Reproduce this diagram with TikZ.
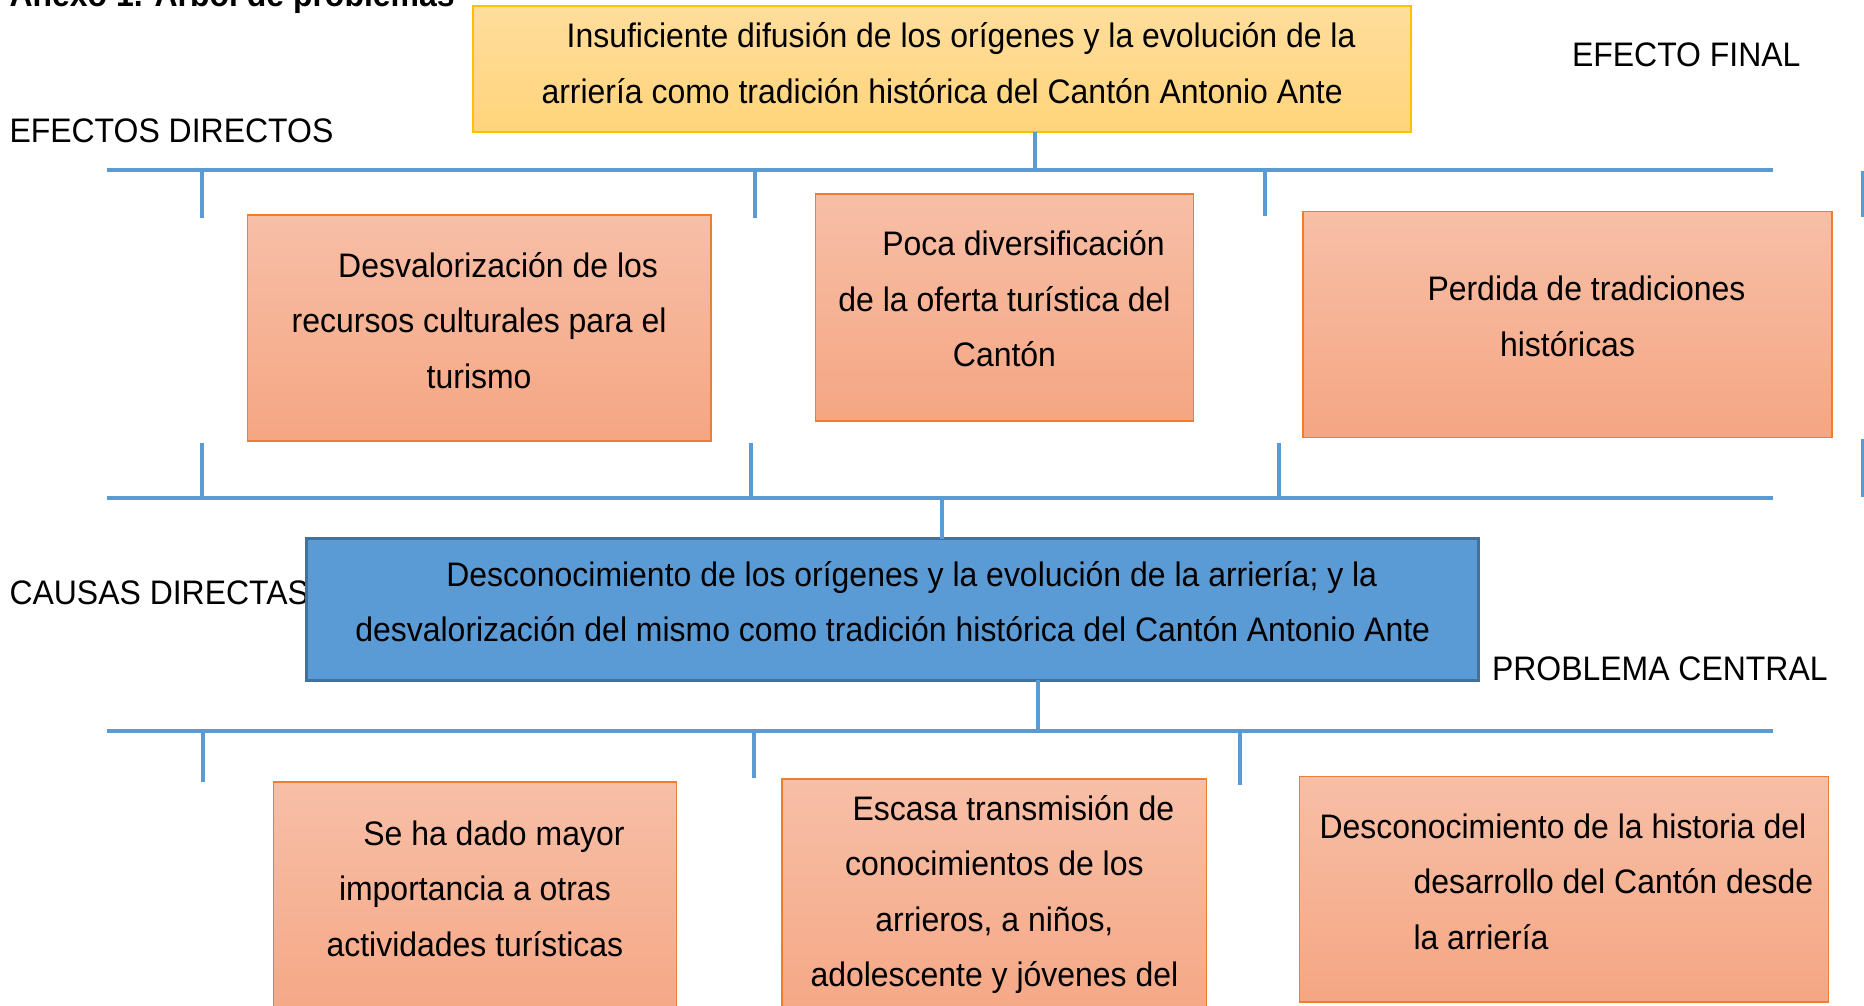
\documentclass[tikz,border=0pt]{standalone}
\usepackage{fontspec}
\setmainfont{Liberation Sans}[FakeStretch=0.94]
\definecolor{lineblue}{RGB}{91,155,213}
\definecolor{blueborder}{RGB}{65,113,156}
\definecolor{orborder}{RGB}{237,125,49}
\definecolor{ortop}{RGB}{247,191,167}
\definecolor{orbot}{RGB}{245,166,131}
\definecolor{yeltop}{RGB}{255,221,156}
\definecolor{yelbot}{RGB}{255,212,122}
\definecolor{yelborder}{RGB}{255,192,0}
\tikzset{
  conn/.style={draw=lineblue, line width=4pt},
  obox/.style={rectangle, inner sep=0pt, outer sep=0pt, draw=orborder, line width=1.6pt, top color=ortop, bottom color=orbot},
  ybox/.style={rectangle, inner sep=0pt, outer sep=0pt, draw=yelborder, line width=1.6pt, top color=yeltop, bottom color=yelbot},
  bbox/.style={rectangle, inner sep=0pt, outer sep=0pt, draw=blueborder, line width=3pt, fill=lineblue},
  txt/.style={inner sep=0pt, outer sep=0pt, font=\fontsize{34}{55.5}\selectfont, align=center, anchor=base},
  lbl/.style={inner sep=0pt, outer sep=0pt, font=\fontsize{34}{55.5}\selectfont, anchor=base west},
}
\begin{document}
\begin{tikzpicture}[x=1pt,y=-1pt]
\clip (0,0) rectangle (1864,1006);
\fill[white] (0,0) rectangle (1864,1006);

% side labels
\node[lbl, font=\fontsize{34}{55.5}\selectfont\bfseries] (title) at (9.5,7) {Anexo 1. Árbol de problemas};
\node[lbl] (efinal) at (1572,67) {EFECTO FINAL};
\node[lbl] (edir) at (9.5,143) {EFECTOS DIRECTOS};
\node[lbl] (cdir) at (9.5,604) {CAUSAS DIRECTAS};
\node[lbl] (pcen) at (1492,680) {PROBLEMA CENTRAL};

% bus coordinates
\coordinate (b1l) at (107,170);  \coordinate (b1r) at (1772.5,170);
\coordinate (b2l) at (107,498);  \coordinate (b2r) at (1772.5,498);
\coordinate (b3l) at (107,731);  \coordinate (b3r) at (1772.5,731);

% boxes (text nodes anchored at the baseline of their last line)
\node[ybox, minimum width=938pt, minimum height=126pt] (fin) at (942.1,69) {};
\node[txt] (fint) at (942.1,103.2) {\hspace*{38pt}Insuficiente difusión de los orígenes y la evolución de la\\arriería como tradición histórica del Cantón Antonio Ante};

\node[obox, minimum width=463.6pt, minimum height=225.8pt] (e1) at (479.1,328.1) {};
\node[txt] (e1t) at (479.1,388) {\hspace*{38pt}Desvalorización de los\\recursos culturales para el\\turismo};

\node[obox, minimum width=378pt, minimum height=227pt] (e2) at (1004.5,307.3) {};
\node[txt] (e2t) at (1004.5,366.7) {\hspace*{38pt}Poca diversificación\\de la oferta turística del\\Cantón};

\node[obox, minimum width=529pt, minimum height=225.9pt] (e3) at (1567.5,324.55) {};
\node[txt] (e3t) at (1567.5,356.4) {\hspace*{38pt}Perdida de tradiciones\\históricas};

\node[bbox, minimum width=1172pt, minimum height=141.5pt] (pc) at (892.75,609.25) {};
\node[txt] (pct) at (892.75,641.7) {\hspace*{38pt}Desconocimiento de los orígenes y la evolución de la arriería; y la\\desvalorización del mismo como tradición histórica del Cantón Antonio Ante};

\node[obox, minimum width=403pt, minimum height=247.8pt] (c1) at (474.9,906.1) {};
\node[txt] (c1t) at (474.9,956.3) {\hspace*{38pt}Se ha dado mayor\\importancia a otras\\actividades turísticas};

\node[obox, minimum width=424.4pt, minimum height=251.3pt] (c2) at (994.4,904.35) {};
\node[txt] (c2t) at (994.4,986.9) {\hspace*{38pt}Escasa transmisión de\\conocimientos de los\\arrieros, a niños,\\adolescente y jóvenes del};

\node[obox, minimum width=529pt, minimum height=225.8pt] (c3) at (1563.8,889.2) {};
\node[txt, align=left, anchor=base west] (c3t) at (1319.5,949.2) {Desconocimiento de la historia del\\\hspace*{94pt}desarrollo del Cantón desde\\\hspace*{94pt}la arriería};

% top bus
\coordinate (j1) at (1035.4,170);
\draw[conn] (fin.south -| j1) -- (j1);
\draw[conn] (b1l) -- (b1r);
\coordinate (t1a) at (202,170);   \coordinate (t1b) at (202,217.5);
\coordinate (t2a) at (755,170);   \coordinate (t2b) at (755,217.5);
\coordinate (t3a) at (1265,170);  \coordinate (t3b) at (1265,216);
\coordinate (t4a) at (1862.5,171); \coordinate (t4b) at (1862.5,216.5);
\draw[conn] (t1a) -- (t1b);
\draw[conn] (t2a) -- (t2b);
\draw[conn] (t3a) -- (t3b);
\draw[conn] (t4a) -- (t4b);

% middle bus
\coordinate (m1a) at (202,443.4);   \coordinate (m1b) at (202,498);
\coordinate (m2a) at (751.3,443.4); \coordinate (m2b) at (751.3,498);
\coordinate (m3a) at (1279,443.4);  \coordinate (m3b) at (1279,498);
\coordinate (m4a) at (1862.5,439);  \coordinate (m4b) at (1862.5,496.5);
\draw[conn] (m1a) -- (m1b);
\draw[conn] (m2a) -- (m2b);
\draw[conn] (m3a) -- (m3b);
\draw[conn] (m4a) -- (m4b);
\draw[conn] (b2l) -- (b2r);
\coordinate (j2) at (941.5,498);
\draw[conn] (j2) -- (pc.north -| j2);

% bottom bus
\coordinate (j3) at (1037.8,731);
\draw[conn] (pc.south -| j3) -- (j3);
\draw[conn] (b3l) -- (b3r);
\coordinate (k1a) at (203.3,731);  \coordinate (k1b) at (203.3,782);
\coordinate (k2a) at (753.7,731);  \coordinate (k2b) at (753.7,778);
\coordinate (k3a) at (1239.9,731); \coordinate (k3b) at (1239.9,785);
\draw[conn] (k1a) -- (k1b);
\draw[conn] (k2a) -- (k2b);
\draw[conn] (k3a) -- (k3b);
\end{tikzpicture}
\end{document}
